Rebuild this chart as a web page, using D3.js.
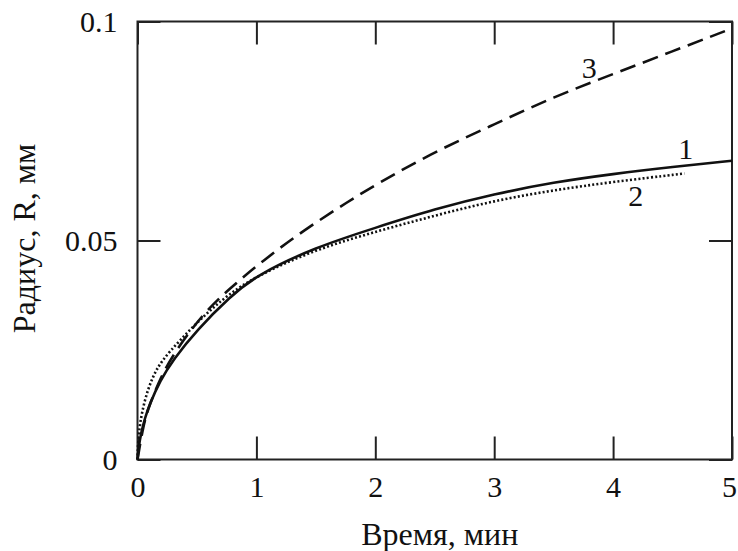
<!DOCTYPE html>
<html>
<head>
<meta charset="utf-8">
<script src="https://cdn.jsdelivr.net/npm/d3@7"></script>
<style>
    body { margin: 0; background: #fff; }
    svg text { font-family: "Liberation Serif", "Times New Roman", serif; fill: #111; }
</style>
</head>
<body>
<div id="chart"></div>
<script>

// axis ticks
let xTicks = [0, 1, 2, 3, 4, 5];
let yTicks = [0, 0.05, 0.1];
let yTickLabels = ["0", "0.05", "0.1"];

// curve 1 (solid)
let time1 = [0, 0.01, 0.03, 0.063, 0.1, 0.19, 0.3, 0.5, 0.78, 1, 1.5, 2, 2.5, 3, 3.5, 4, 4.5, 5];
let radius1 = [0, 0.003, 0.006, 0.0095, 0.0125, 0.018, 0.0228, 0.0296, 0.0372, 0.0421, 0.0485, 0.0529, 0.0572, 0.0606, 0.0633, 0.0652, 0.0668, 0.0682];

// curve 2 (dotted)
let time2 = [0, 0.005, 0.02, 0.06, 0.12, 0.2, 0.36, 0.55, 0.75, 1, 1.5, 2, 2.5, 3, 3.5, 4, 4.6];
let radius2 = [0, 0.004, 0.0083, 0.0136, 0.0185, 0.0225, 0.0273, 0.0326, 0.0374, 0.0419, 0.0480, 0.0520, 0.0557, 0.0591, 0.0615, 0.0634, 0.0653];

// curve 3 (dashed)
let time3 = [0, 0.05, 0.1, 0.2, 0.3, 0.54, 0.78, 1.06, 1.39, 1.79, 2, 2.5, 3, 3.5, 4, 4.5, 4.95];
let radius3 = [0, 0.008, 0.0125, 0.019, 0.024, 0.033, 0.0392, 0.0455, 0.0522, 0.0592, 0.0627, 0.0703, 0.0765, 0.0828, 0.0880, 0.0932, 0.0979];

let curveLabels = ["1", "2", "3"];


let margin = { top: 21.5, right: 6, bottom: 91.5, left: 137.5 };
let width = 738 - margin.left - margin.right,
    height = 551 - margin.top - margin.bottom;

let serif = "'Liberation Serif', 'Times New Roman', serif";

let svg = d3.select("#chart").append("svg")
    .attr("width", 738)
    .attr("height", 551)
    .append("g")
    .attr("transform", "translate(" + margin.left + "," + margin.top + ")");

let x = d3.scaleLinear().domain([0, 5]).range([0, width]);
let y = d3.scaleLinear().domain([0, 0.1]).range([height, 0]);

let tickLen = 23;
let axisColor = "#222";

// ticks pointing inward on all four sides
let xAxisG = svg.append("g")
    .attr("transform", "translate(0," + height + ")")
    .call(d3.axisBottom(x).tickValues(xTicks).tickSize(-tickLen).tickPadding(16).tickFormat(d3.format("d")));

svg.append("g")
    .call(d3.axisTop(x).tickValues(xTicks).tickSize(-tickLen).tickFormat(""));

svg.append("g")
    .call(d3.axisLeft(y).tickValues(yTicks).tickSize(-tickLen).tickPadding(20)
        .tickFormat((d, i) => yTickLabels[i]));

svg.append("g")
    .attr("transform", "translate(" + width + ",0)")
    .call(d3.axisRight(y).tickValues(yTicks).tickSize(-tickLen).tickFormat(""));

svg.selectAll(".domain").remove();
svg.selectAll(".tick line").attr("stroke", axisColor).attr("stroke-width", 2);
svg.selectAll(".tick text")
    .attr("font-family", serif)
    .style("font-family", serif)
    .style("font-size", "30px")
    .attr("fill", "#111");

// last x label sits right at the edge, pull it in a bit
xAxisG.selectAll(".tick text").filter(d => d === 5).attr("dx", -3);

// frame
svg.append("rect")
    .attr("x", 0).attr("y", 0)
    .attr("width", width).attr("height", height)
    .attr("fill", "none")
    .attr("stroke", axisColor)
    .attr("stroke-width", 2);

// curves
let line = d3.line()
    .x(d => x(d[0]))
    .y(d => y(d[1]))
    .curve(d3.curveBasis);

let series = [
    { t: time1, r: radius1, dash: null },
    { t: time2, r: radius2, dash: "2,2.2" },
    { t: time3, r: radius3, dash: "16,8" }
];

series.forEach(s => {
    svg.append("path")
        .datum(s.t.map((t, i) => [t, s.r[i]]))
        .attr("fill", "none")
        .attr("stroke", "#111")
        .attr("stroke-width", 2.6)
        .attr("stroke-dasharray", s.dash)
        .attr("d", line);
});

// curve numbers
let labelPos = [[4.61, 0.0711], [4.19, 0.0603], [3.8, 0.0894]];
labelPos.forEach((p, i) => {
    svg.append("text")
        .attr("x", x(p[0]))
        .attr("y", y(p[1]))
        .attr("text-anchor", "middle")
        .attr("dominant-baseline", "central")
        .style("font-family", serif)
        .style("font-size", "30px")
        .text(curveLabels[i]);
});

// axis titles
svg.append("text")
    .attr("x", width / 2 + 5)
    .attr("y", height + 85)
    .attr("text-anchor", "middle")
    .style("font-family", serif)
    .style("font-size", "32px")
    .text("Время, мин");

svg.append("text")
    .attr("transform", "rotate(-90)")
    .attr("x", -(height / 2) + 2)
    .attr("y", -margin.left + 35)
    .attr("text-anchor", "middle")
    .style("font-family", serif)
    .style("font-size", "32px")
    .text("Радиус, R, мм");

</script>
</body>
</html>
